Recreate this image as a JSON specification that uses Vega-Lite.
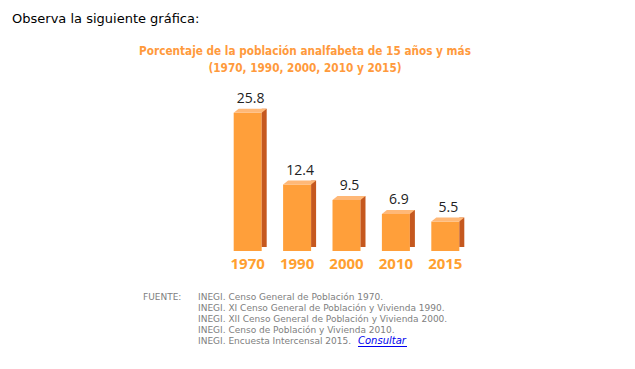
{
  "$schema": "https://vega.github.io/schema/vega-lite/v6.json",
  "padding": {"left": 12, "top": 13, "right": 5, "bottom": 5},
  "background": "white",
  "config": {"view": {"stroke": null}},
  "title": {
    "text": "Observa la siguiente gráfica:",
    "anchor": "start",
    "dx": -127,
    "font": "DejaVu Sans",
    "fontSize": 13,
    "fontWeight": "normal",
    "color": "#000000",
    "offset": 20
  },
  "spacing": 20,
  "vconcat": [
    {
      "width": 330,
      "height": 150,
      "title": {
        "text": ["Porcentaje de la población analfabeta de 15 años y más", "(1970, 1990, 2000, 2010 y 2015)"],
        "anchor": "middle",
        "font": "DejaVu Sans Condensed",
        "fontSize": 11.7,
        "fontWeight": "bold",
        "color": "#ff9a3c",
        "lineHeight": 17,
        "offset": 17
      },
      "data": {
        "values": [
          {"year": "1970", "value": 25.8},
          {"year": "1990", "value": 12.4},
          {"year": "2000", "value": 9.5},
          {"year": "2010", "value": 6.9},
          {"year": "2015", "value": 5.5}
        ]
      },
      "encoding": {
        "x": {
          "field": "year",
          "type": "ordinal",
          "scale": {"type": "band", "paddingInner": 0, "paddingOuter": 0.84, "align": 1},
          "axis": {
            "title": null,
            "domain": false,
            "ticks": false,
            "grid": false,
            "labelAngle": 0,
            "labelFont": "Open Sans",
            "labelFontWeight": "bold",
            "labelFontSize": 15,
            "labelColor": "#ffa030",
            "labelPadding": 5
          }
        },
        "y": {
          "field": "value",
          "type": "quantitative",
          "scale": {"domain": [0, 28], "nice": false},
          "axis": null
        }
      },
      "layer": [
        {"mark": {"type": "bar", "width": 28, "color": "#ff9f3a"}},
        {"mark": {"type": "bar", "width": 5, "xOffset": 16.5, "yOffset": -4, "y2Offset": -2, "color": "#c5581f"}},
        {
          "mark": {
            "type": "point",
            "shape": "M -0.8485 0 L 0.8485 0 L 1.1515 -0.2424 L -0.5455 -0.2424 Z",
            "size": 1089,
            "filled": true,
            "opacity": 1,
            "color": "#ffb877",
            "strokeWidth": 0
          }
        },
        {
          "mark": {"type": "text", "dx": 3, "dy": -10, "baseline": "alphabetic", "font": "Open Sans", "fontSize": 14, "color": "#222222"},
          "encoding": {"text": {"field": "value", "type": "quantitative", "format": ".1f"}}
        }
      ]
    },
    {
      "width": 55,
      "height": 55,
      "encoding": {
        "x": {"field": "col", "type": "nominal", "scale": {"type": "point", "padding": 0}, "axis": null},
        "y": {"field": "line", "type": "ordinal", "scale": {"type": "band", "paddingInner": 0, "paddingOuter": 0}, "axis": null}
      },
      "layer": [
        {
          "data": {
            "values": [
              {"col": "a", "line": 1, "text": "FUENTE:"},
              {"col": "b", "line": 1, "text": "INEGI. Censo General de Población 1970."},
              {"col": "b", "line": 2, "text": "INEGI. XI Censo General de Población y Vivienda 1990."},
              {"col": "b", "line": 3, "text": "INEGI. XII Censo General de Población y Vivienda 2000."},
              {"col": "b", "line": 4, "text": "INEGI. Censo de Población y Vivienda 2010."},
              {"col": "b", "line": 5, "text": "INEGI. Encuesta Intercensal 2015."}
            ]
          },
          "mark": {"type": "text", "align": "left", "baseline": "middle", "dx": 3, "font": "DejaVu Sans", "fontSize": 9, "color": "#808080"},
          "encoding": {"text": {"field": "text", "type": "nominal"}}
        },
        {
          "data": {"values": [{"col": "b", "line": 5, "text": "Consultar"}]},
          "layer": [
            {
              "mark": {"type": "text", "align": "left", "baseline": "middle", "dx": 163, "font": "DejaVu Sans", "fontSize": 10, "fontStyle": "italic", "color": "#0000ee"},
              "encoding": {"text": {"field": "text", "type": "nominal"}}
            },
            {
              "mark": {"type": "rule", "xOffset": 163, "x2Offset": 212, "yOffset": 6, "color": "#0000ee", "strokeWidth": 1},
              "encoding": {"x2": {"field": "col"}}
            }
          ]
        }
      ]
    }
  ]
}
